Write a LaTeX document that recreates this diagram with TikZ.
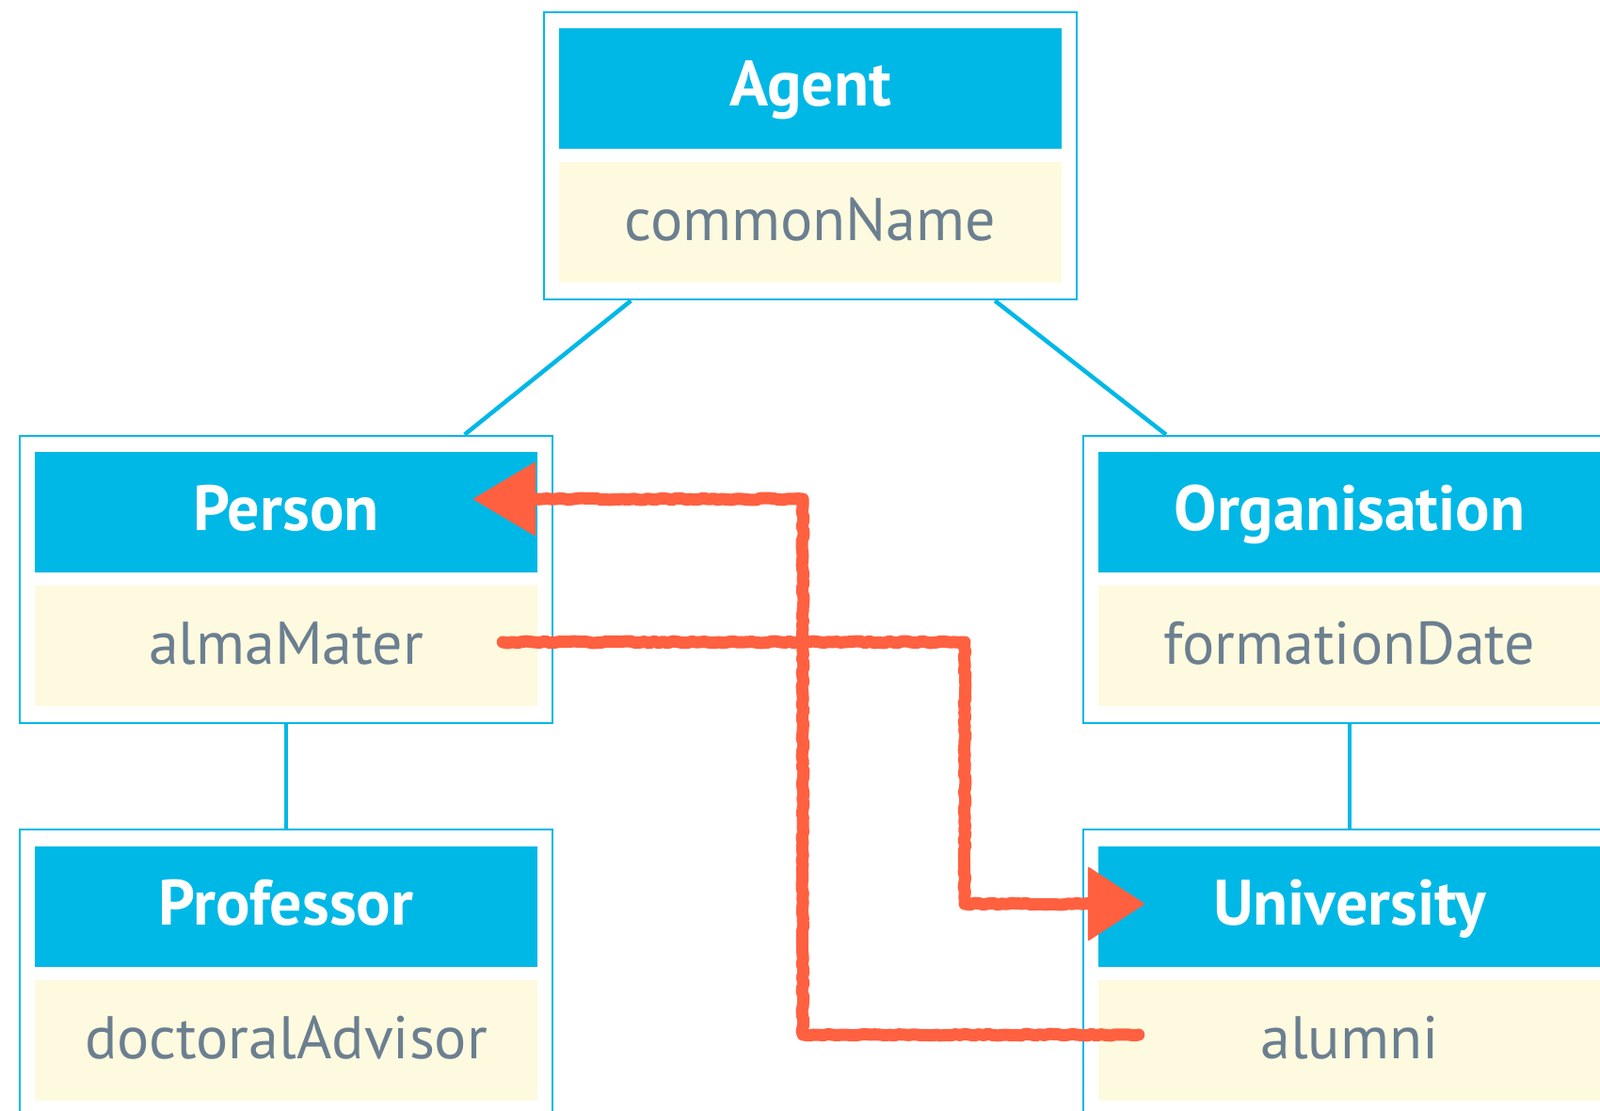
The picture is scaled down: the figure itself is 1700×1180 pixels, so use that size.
\documentclass[tikz,border=0pt]{standalone}
\usepackage{fontspec}
\setmainfont{PT Sans}
\usetikzlibrary{calc,decorations.pathmorphing}
\definecolor{cyanhead}{HTML}{00B8E6}
\definecolor{attrfill}{HTML}{FEFADF}
\definecolor{attrtext}{HTML}{6B7F90}
\definecolor{redline}{HTML}{FF6040}
\begin{document}
\begin{tikzpicture}[x=1pt,y=-1pt,
  outerbox/.style={draw=cyanhead, line width=2.8pt, minimum width=566pt, minimum height=305pt, inner sep=0pt},
  headbox/.style={fill=cyanhead, minimum width=534pt, minimum height=128pt, inner sep=0pt, text height=38pt, text depth=0pt, text=white, font=\fontsize{68}{74}\selectfont\bfseries},
  attrbox/.style={fill=attrfill, minimum width=534pt, minimum height=128pt, inner sep=0pt, text height=38pt, text depth=0pt, text=attrtext, font=\fontsize{64}{70}\selectfont},
  link/.style={draw=cyanhead, line width=4.5pt},
  redpath/.style={draw=redline, line width=13pt, line join=round, line cap=round, decorate, decoration={random steps, segment length=5pt, amplitude=1pt}},
  redhead/.style={fill=redline, draw=redline, line width=2pt, line join=round}
]
\useasboundingbox (0,0) rectangle (1700,1180);
\clip (0,0) rectangle (1700,1180);
% boxes
\node[outerbox] (agent) at (861,165.5) {};
\node[headbox] (agentHead) at (861,94) {Agent};
\node[attrbox] (agentAttr) at (861,236) {commonName};

\node[outerbox] (person) at (304,615.5) {};
\node[headbox] (personHead) at (304,544) {Person};
\node[attrbox] (personAttr) at (304,686) {almaMater};

\node[outerbox] (prof) at (304,1033.5) {};
\node[headbox] (profHead) at (304,963) {Professor};
\node[attrbox] (profAttr) at (304,1105) {doctoralAdvisor};

\node[outerbox] (org) at (1434,615.5) {};
\node[headbox] (orgHead) at (1434,544) {Organisation};
\node[attrbox] (orgAttr) at (1434,686) {formationDate};

\node[outerbox] (univ) at (1434,1033.5) {};
\node[headbox] (univHead) at (1434,963) {University};
\node[attrbox] (univAttr) at (1434,1105) {alumni};

% hierarchy links
\draw[link] (agent) -- (person);
\draw[link] (agent) -- (org);
\draw[link] (person) -- (prof);
\draw[link] (org) -- (univ);

% red arrows
\coordinate (s1) at ($(personAttr.east)+(-37,-4)$);
\coordinate (k1) at (1025,0);
\coordinate (t1) at ($(univHead.west)+(48,-3)$);
\draw[redpath] (s1) -- (s1 -| k1) -- (t1 -| k1) -- ($(t1)+(-55,0)$);
\fill[redhead] (t1) -- ++(-58,-38) -- ++(0,76) -- cycle;

\coordinate (s2) at ($(univAttr.west)+(43,-6)$);
\coordinate (k2) at (853,0);
\coordinate (t2) at ($(personHead.east)+(-67,-14)$);
\draw[redpath] (s2) -- (s2 -| k2) -- (t2 -| k2) -- ($(t2)+(55,0)$);
\fill[redhead] (t2) -- ++(64,-38) -- ++(0,76) -- cycle;
\end{tikzpicture}
\end{document}
